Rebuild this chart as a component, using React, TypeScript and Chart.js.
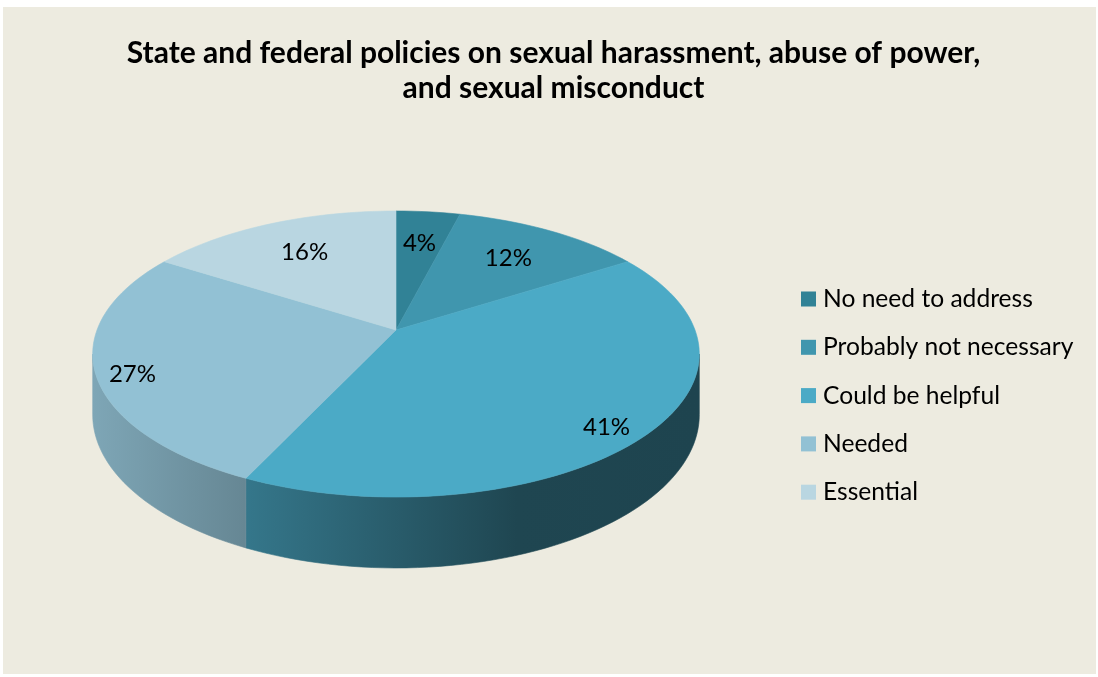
import React, { useEffect, useRef } from 'react';
import { Chart, registerables } from 'chart.js';

Chart.register(...registerables);

// ---- data ----
const CATEGORIES = ['No need to address', 'Probably not necessary', 'Could be helpful', 'Needed', 'Essential'];
const VALUES = [4, 12, 41, 27, 16];
const TITLE_LINES = ['State and federal policies on sexual harassment, abuse of power,', 'and sexual misconduct'];

// ---- style ----
const TOP_COLORS = ['#318296', '#4096AE', '#4BAAC6', '#92C1D4', '#B9D6E1'];
const LABEL_RADIUS = [0.7, 0.7, 0.85, 0.88, 0.7];
const LABEL_DROP = [0, 0, 10, 8, 0];
const BG = '#EDEBE0';
const FONT = 'Lato, "Open Sans", sans-serif';
// 3D geometry (canvas px)
const GEO = { cx: 393, cy: 323, rx: 299, ry: 139, persp: 0.168, depth: 59 };
const LEGEND = { boxX: 798, textX: 820, firstY: 292, step: 48.3, box: 15, size: 24.6 };

function hexToRgb(h: string) {
  const n = parseInt(h.slice(1), 16);
  return [(n >> 16) & 255, (n >> 8) & 255, n & 255];
}
function shade(h: string, f: number) {
  const [r, g, b] = hexToRgb(h);
  return `rgb(${Math.round(r * f)},${Math.round(g * f)},${Math.round(b * f)})`;
}

const pie3d = {
  id: 'pie3d',
  beforeDatasetsDraw(chart: any) {
    const ctx: CanvasRenderingContext2D = chart.ctx;
    const meta = chart.getDatasetMeta(0);
    const { cx, cy, rx, ry, persp, depth } = GEO;
    const proj = (theta: number, r: number, drop = 0): [number, number] => {
      const u = Math.sin(theta) * r;
      const v = Math.cos(theta) * r;
      const s = 1 / (1 + persp * v);
      return [cx + rx * u * s, cy - ry * v * s + drop * s];
    };
    const arcs = meta.data.map((el: any) => {
      const p = el.getProps(['startAngle', 'endAngle'], true);
      return { a: p.startAngle + Math.PI / 2, b: p.endAngle + Math.PI / 2 };
    });
    const STEPS = 200;
    const front0 = Math.acos(-persp);
    const front1 = 2 * Math.PI - front0;
    const left = cx - rx * 1.015;
    const width = rx * 2.03;

    ctx.save();
    // side walls
    arcs.forEach((arc: any, i: number) => {
      const a = Math.max(arc.a, front0);
      const b = Math.min(arc.b, front1);
      if (b <= a) return;
      const n = Math.max(2, Math.ceil(((b - a) / (2 * Math.PI)) * STEPS));
      ctx.beginPath();
      for (let k = 0; k <= n; k++) {
        const t = a + ((b - a) * k) / n;
        const [x, y] = proj(t, 1);
        if (k === 0) ctx.moveTo(x, y); else ctx.lineTo(x, y);
      }
      for (let k = n; k >= 0; k--) {
        const t = a + ((b - a) * k) / n;
        const [x, y] = proj(t, 1, depth);
        ctx.lineTo(x, y);
      }
      ctx.closePath();
      const g = ctx.createLinearGradient(left, 0, left + width, 0);
      const c = TOP_COLORS[i];
      g.addColorStop(0, shade(c, 0.86));
      g.addColorStop(0.25, shade(c, 0.7));
      g.addColorStop(0.7, shade(c, 0.41));
      g.addColorStop(1, shade(c, 0.4));
      ctx.fillStyle = g;
      ctx.fill();
      ctx.strokeStyle = g;
      ctx.lineWidth = 0.6;
      ctx.stroke();
    });
    // top faces
    arcs.forEach((arc: any, i: number) => {
      const n = Math.max(2, Math.ceil(((arc.b - arc.a) / (2 * Math.PI)) * STEPS));
      ctx.beginPath();
      ctx.moveTo(cx, cy);
      for (let k = 0; k <= n; k++) {
        const t = arc.a + ((arc.b - arc.a) * k) / n;
        const [x, y] = proj(t, 1);
        ctx.lineTo(x, y);
      }
      ctx.closePath();
      ctx.fillStyle = TOP_COLORS[i];
      ctx.fill();
      ctx.strokeStyle = TOP_COLORS[i];
      ctx.lineWidth = 0.6;
      ctx.stroke();
    });
    // labels
    const data = chart.data.datasets[0].data as number[];
    const total = data.reduce((s, v) => s + v, 0);
    ctx.fillStyle = '#000';
    ctx.font = `24px ${FONT}`;
    ctx.textAlign = 'center';
    ctx.textBaseline = 'middle';
    arcs.forEach((arc: any, i: number) => {
      const mid = (arc.a + arc.b) / 2;
      const [x, y] = proj(mid, LABEL_RADIUS[i], LABEL_DROP[i]);
      ctx.fillText(`${Math.round((data[i] / total) * 100)}%`, x, y);
    });
    ctx.restore();
    return false;
  },
  afterDraw(chart: any) {
    const ctx: CanvasRenderingContext2D = chart.ctx;
    ctx.save();
    ctx.font = `${LEGEND.size}px ${FONT}`;
    ctx.textAlign = 'left';
    ctx.textBaseline = 'middle';
    (chart.data.labels as string[]).forEach((lab, i) => {
      const y = LEGEND.firstY + i * LEGEND.step;
      ctx.fillStyle = TOP_COLORS[i];
      ctx.fillRect(LEGEND.boxX, y - LEGEND.box / 2, LEGEND.box, LEGEND.box);
      ctx.fillStyle = '#000';
      ctx.fillText(lab, LEGEND.textX, y);
    });
    ctx.restore();
  },
};

export default function App() {
  const ref = useRef<HTMLCanvasElement>(null);
  useEffect(() => {
    document.body.style.margin = '0';
    const chart = new Chart(ref.current!, {
      type: 'pie',
      data: {
        labels: CATEGORIES,
        datasets: [{ data: VALUES, backgroundColor: TOP_COLORS, borderWidth: 0 }],
      },
      options: {
        animation: false,
        responsive: false,
        devicePixelRatio: 1,
        layout: { padding: { left: 8, right: 0, top: 0, bottom: 10 } },
        plugins: {
          legend: { display: false },
          tooltip: { enabled: false },
          title: {
            display: true,
            text: TITLE_LINES,
            color: '#000',
            font: { family: FONT, weight: 'bold', size: 30, lineHeight: 35 / 30 },
            padding: { top: 28.5, bottom: 10 },
          },
        },
      },
      plugins: [pie3d],
    });
    return () => chart.destroy();
  }, []);
  return (
    <div style={{ position: 'relative', width: 1098, height: 677, background: '#fff' }}>
      <canvas
        ref={ref}
        width={1093}
        height={667}
        style={{ position: 'absolute', left: 3, top: 7, width: 1093, height: 667, background: BG }}
      />
    </div>
  );
}
